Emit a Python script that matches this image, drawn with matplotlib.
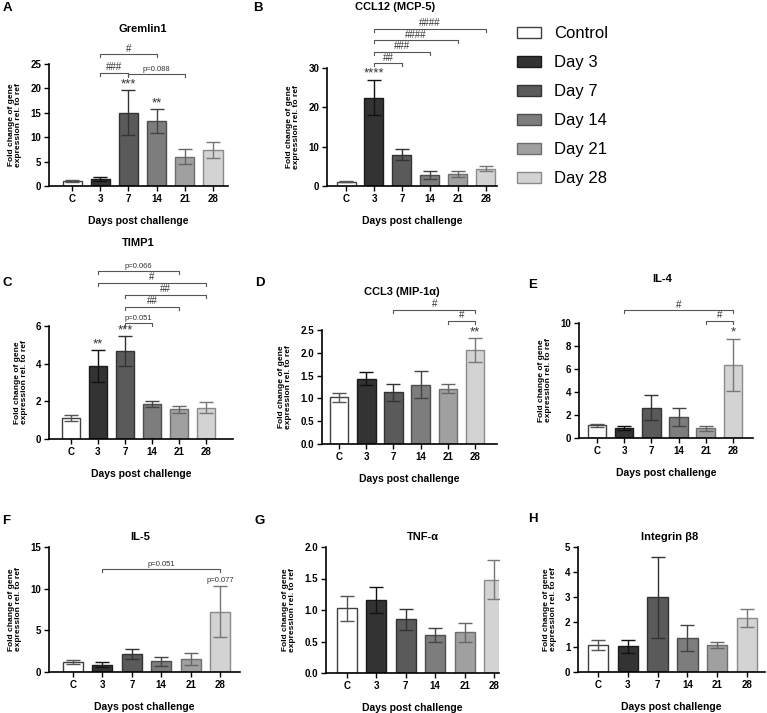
import matplotlib
matplotlib.use('Agg')
import matplotlib.pyplot as plt
from matplotlib.patches import Patch

plt.rcParams['font.family'] = ['Liberation Sans', 'DejaVu Sans']

# x categories and legend names
days = ['C', '3', '7', '14', '21', '28']
groups = ['Control', 'Day 3', 'Day 7', 'Day 14', 'Day 21', 'Day 28']

# mean fold change and SEM per gene
gremlin1_mean = [1.1, 1.5, 15.0, 13.3, 6.0, 7.4]
gremlin1_err = [0.2, 0.4, 4.6, 2.4, 1.5, 1.65]
ccl12_mean = [1.1, 22.5, 7.9, 2.8, 3.0, 4.4]
ccl12_err = [0.2, 4.5, 1.4, 0.95, 0.75, 0.7]
timp1_mean = [1.1, 3.85, 4.65, 1.85, 1.57, 1.67]
timp1_err = [0.17, 0.85, 0.8, 0.17, 0.17, 0.28]
ccl3_mean = [1.02, 1.43, 1.13, 1.3, 1.21, 2.06]
ccl3_err = [0.09, 0.14, 0.18, 0.3, 0.1, 0.26]
il4_mean = [1.1, 0.88, 2.65, 1.82, 0.85, 6.35]
il4_err = [0.15, 0.2, 1.05, 0.8, 0.22, 2.3]
il5_mean = [1.22, 0.85, 2.2, 1.28, 1.6, 7.25]
il5_err = [0.25, 0.3, 0.62, 0.55, 0.7, 3.1]
tnfa_mean = [1.03, 1.16, 0.85, 0.61, 0.65, 1.48]
tnfa_err = [0.2, 0.2, 0.16, 0.11, 0.15, 0.31]
itgb8_mean = [1.08, 1.04, 3.0, 1.36, 1.09, 2.17]
itgb8_err = [0.2, 0.26, 1.62, 0.52, 0.13, 0.37]

# significance: (group index -> label) and brackets (from, to, height, label)
gremlin1_stars = {2: '***', 3: '**'}
gremlin1_brackets = [(1, 3, 27.0, '#'), (1, 2, 23.2, '###'), (2, 4, 23.0, 'p=0.088')]
ccl12_stars = {1: '****'}
ccl12_brackets = [(1, 5, 40.0, '####'), (1, 4, 37.0, '####'), (1, 3, 34.1, '###'), (1, 2, 31.2, '##')]
timp1_stars = {1: '**', 2: '***'}
timp1_brackets = [(1, 4, 8.92, 'p=0.066'), (1, 5, 8.28, '#'), (2, 5, 7.65, '##'),
                  (2, 4, 7.01, '##'), (2, 3, 6.16, 'p=0.051')]
ccl3_stars = {5: '**'}
ccl3_brackets = [(2, 5, 2.94, '#'), (4, 5, 2.70, '#')]
il4_stars = {5: '*'}
il4_brackets = [(1, 5, 11.1, '#'), (4, 5, 10.17, '#')]
il5_stars = {5: 'p=0.077'}
il5_brackets = [(1, 5, 12.36, 'p=0.051')]

fills = ['#ffffff', '#333333', '#5a5a5a', '#7d7d7d', '#a0a0a0', '#d3d3d3']
edges = ['#404040', '#1a1a1a', '#333333', '#4d4d4d', '#6e6e6e', '#8a8a8a']
errc = ['#555555', '#111111', '#333333', '#444444', '#666666', '#777777']

W, H = 767, 713
fig = plt.figure(figsize=(W / 100, H / 100), dpi=100)


def add_ax(L, R, T, B):
    return fig.add_axes([L / W, 1 - B / H, (R - L) / W, (B - T) / H])


def panel(box, xlim, mean, err, ytop, yticks, fmt, title, tpos, letter, lpos,
          stars=None, brackets=None):
    ax = add_ax(*box)
    x = range(len(days))
    ax.bar(x, mean, width=0.68, color=fills, edgecolor=edges, linewidth=1, zorder=2)
    for i in x:
        ax.errorbar(i, mean[i], yerr=err[i], fmt='none', ecolor=errc[i],
                    elinewidth=1.0, capsize=5, capthick=1.0, zorder=3)
    ax.set_xlim(*xlim)
    ax.set_ylim(0, ytop)
    ax.set_xticks(list(x))
    ax.set_xticklabels(days)
    ax.set_yticks(yticks)
    ax.set_yticklabels([fmt.format(t) for t in yticks])
    for s in ['top', 'right']:
        ax.spines[s].set_visible(False)
    for s in ['left', 'bottom']:
        ax.spines[s].set_linewidth(1.2)
    ax.tick_params(direction='out', length=3.5, width=1, pad=2)
    for lab in ax.get_xticklabels() + ax.get_yticklabels():
        lab.set_fontweight('bold')
        lab.set_fontsize(7)
    ax.set_xlabel('Days post challenge', fontsize=7.5, fontweight='bold', labelpad=9)
    ax.set_ylabel('Fold change of gene\nexpression rel. to ref', fontsize=6,
                  fontweight='bold', labelpad=6, linespacing=1.0)
    fig.text(tpos[0] / W, 1 - tpos[1] / H, title, ha='center', va='center',
             fontsize=8, fontweight='bold')
    fig.text(lpos[0] / W, 1 - lpos[1] / H, letter, ha='center', va='center',
             fontsize=9.5, fontweight='bold')
    drop = ytop * 0.025
    if stars:
        for i, s in stars.items():
            small = s.startswith('p')
            ax.annotate(s, (i, mean[i] + err[i]), xytext=(0, 1 if small else 0),
                        textcoords='offset points', ha='center', va='bottom',
                        fontsize=5.5 if small else 9.5, color='#333333',
                        annotation_clip=False)
    if brackets:
        for a, b, y, s in brackets:
            ax.plot([a, a, b, b], [y - drop, y, y, y - drop], color='#555555',
                    lw=0.8, clip_on=False)
            small = s.startswith('p')
            ax.annotate(s, ((a + b) / 2, y), xytext=(0, 0.5),
                        textcoords='offset points', ha='center', va='bottom',
                        fontsize=5.5 if small else 7, color='#333333',
                        annotation_clip=False)
    return ax


panel((49, 228, 64, 186), (-0.82, 5.53), gremlin1_mean, gremlin1_err, 25,
      [0, 5, 10, 15, 20, 25], '{:g}', 'Gremlin1', (143, 29), 'A', (7, 8),
      gremlin1_stars, gremlin1_brackets)
panel((327, 497, 68, 186), (-0.68, 5.4), ccl12_mean, ccl12_err, 30,
      [0, 10, 20, 30], '{:g}', 'CCL12 (MCP-5)', (395, 7), 'B', (258, 8),
      ccl12_stars, ccl12_brackets)
panel((49, 233, 326, 439), (-0.81, 6.0), timp1_mean, timp1_err, 6,
      [0, 2, 4, 6], '{:g}', 'TIMP1', (138, 243), 'C', (7, 283),
      timp1_stars, timp1_brackets)
panel((322, 497, 330, 444), (-0.63, 5.81), ccl3_mean, ccl3_err, 2.5,
      [0, 0.5, 1.0, 1.5, 2.0, 2.5], '{:.1f}', 'CCL3 (MIP-1α)', (402, 292), 'D', (260, 283),
      ccl3_stars, ccl3_brackets)
panel((579, 753, 323, 438), (-0.66, 5.74), il4_mean, il4_err, 10,
      [0, 2, 4, 6, 8, 10], '{:g}', 'IL-4', (662, 279), 'E', (533, 285),
      il4_stars, il4_brackets)
panel((49, 240, 547, 672), (-0.82, 5.68), il5_mean, il5_err, 15,
      [0, 5, 10, 15], '{:g}', 'IL-5', (140, 537), 'F', (6, 521),
      il5_stars, il5_brackets)
panel((326, 499, 547, 673), (-0.71, 5.17), tnfa_mean, tnfa_err, 2.0,
      [0, 0.5, 1.0, 1.5, 2.0], '{:.1f}', 'TNF-α', (423, 537), 'G', (260, 521))
panel((578, 765, 547, 672), (-0.67, 5.6), itgb8_mean, itgb8_err, 5,
      [0, 1, 2, 3, 4, 5], '{:g}', 'Integrin β8', (670, 537), 'H', (533, 519))

handles = [Patch(facecolor=f, edgecolor=e, linewidth=1) for f, e in zip(fills, edges)]
fig.legend(handles, groups, loc='upper left', bbox_to_anchor=(517 / W, 1 - 26 / H),
           frameon=False, fontsize=12, handlelength=1.45, handleheight=0.65,
           labelspacing=0.84, handletextpad=0.8, borderpad=0, borderaxespad=0)

fig.savefig('out.png', dpi=100, facecolor='white')
